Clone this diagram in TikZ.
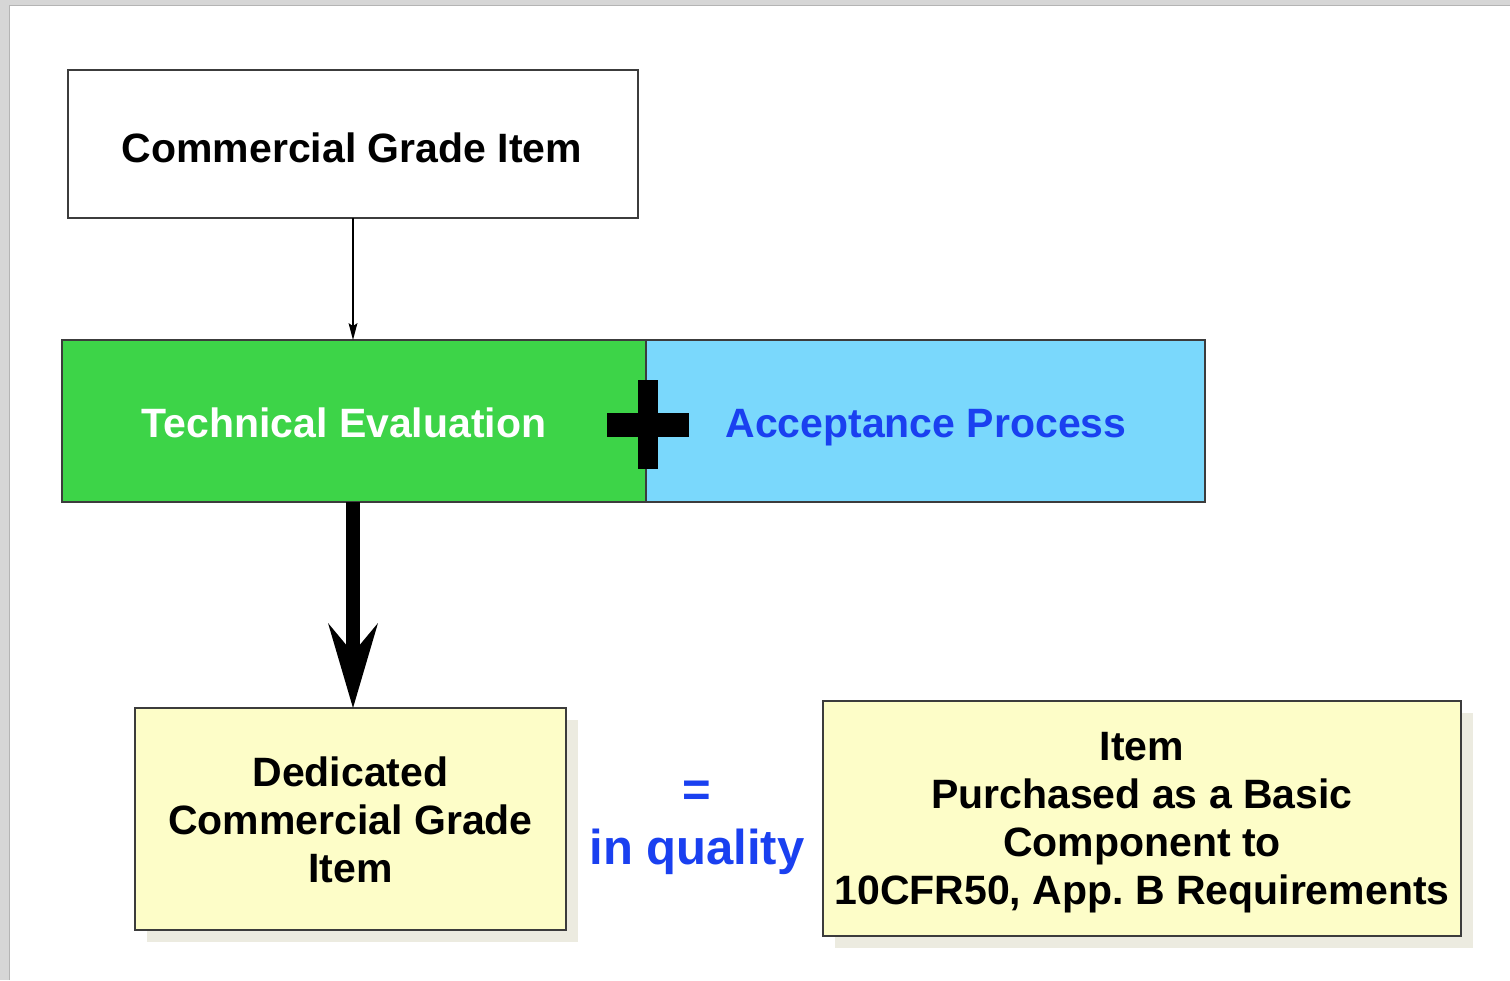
\documentclass[tikz,border=0pt]{standalone}
\usepackage{fontspec}
\setmainfont{Liberation Sans}
\usetikzlibrary{arrows.meta,shadows}

\definecolor{framegray}{RGB}{214,214,214}
\definecolor{frameline}{RGB}{180,180,180}
\definecolor{boxline}{RGB}{60,60,60}
\definecolor{evalgreen}{RGB}{61,212,72}
\definecolor{accblue}{RGB}{122,216,252}
\definecolor{textblue}{RGB}{26,64,240}
\definecolor{paleyellow}{RGB}{253,253,200}
\definecolor{shadowc}{RGB}{236,235,224}

\tikzset{
  every node/.style={inner sep=0pt, outer sep=0pt, font=\bfseries\fontsize{41}{48}\selectfont},
  plainbox/.style={draw=boxline, line width=2pt, rectangle, align=center},
  resultbox/.style={plainbox, fill=paleyellow,
    drop shadow={shadow xshift=12pt, shadow yshift=-12pt, fill=shadowc, opacity=1}},
  boxtext/.style={align=center},
  bluetext/.style={text=textblue, font=\bfseries\fontsize{49}{56}\selectfont}
}

\begin{document}
\frenchspacing
\begin{tikzpicture}[x=1pt, y=-1pt]
  \useasboundingbox (0,0) rectangle (1510,980);

  % slide frame along the top and left edges
  \fill[framegray] (0,0) rectangle (1510,5);
  \fill[framegray] (0,0) rectangle (9,980);
  \draw[frameline, line width=1pt] (9,980) -- (9,5.5) -- (1510,5.5);

  % boxes
  \node[plainbox, fill=white, minimum width=570pt, minimum height=148pt] (cgi)
    at (353,144) {};
  \node[plainbox, fill=evalgreen, minimum width=584pt, minimum height=162pt] (te)
    at (354,421) {};
  \node[plainbox, fill=accblue, minimum width=559pt, minimum height=162pt] (ap)
    at (925.5,421) {};
  \node[resultbox, minimum width=431pt, minimum height=222pt] (dcgi)
    at (350.5,819) {};
  \node[resultbox, minimum width=638pt, minimum height=235pt] (pb)
    at (1142,818.5) {};

  % box texts
  \node[boxtext] (cgilabel) at (352,148) {Commercial Grade Item};
  \node[boxtext, text=white] (telabel) at (344,423) {Technical Evaluation};
  \node[boxtext, text=textblue] (aplabel) at (926,428) {Acceptance Process};
  \node[boxtext] (dcgilabel) at (350.5,820) {Dedicated\\Commercial Grade\\Item};
  \node[boxtext] (pblabel) at (1142,822.5)
    {Item\\Purchased as a Basic\\Component to\\10CFR50, App.\ B Requirements};

  % plus sign on the seam between the two process boxes
  \coordinate (plus) at (648,424.5);
  \fill[black] ([shift={(-41,-12)}]plus) rectangle ([shift={(41,12)}]plus);
  \fill[black] ([shift={(-10,-44.5)}]plus) rectangle ([shift={(10,44.5)}]plus);

  % equality label between the result boxes
  \node[bluetext] (eq) at (697,794) {=};
  \node[bluetext] (iq) at (697,852) {in quality};

  % connectors
  \draw[black, line width=2pt, -{Stealth[length=17pt, width=9pt, inset=3pt, line width=0pt]}]
    (cgi.south) -- (cgi.south |- te.north);
  \draw[black, line width=14pt, -{Stealth[length=85pt, width=50pt, inset=30pt, line width=0pt]}]
    (te.south -| cgi.south) -- (cgi.south |- dcgi.north);
\end{tikzpicture}
\end{document}
